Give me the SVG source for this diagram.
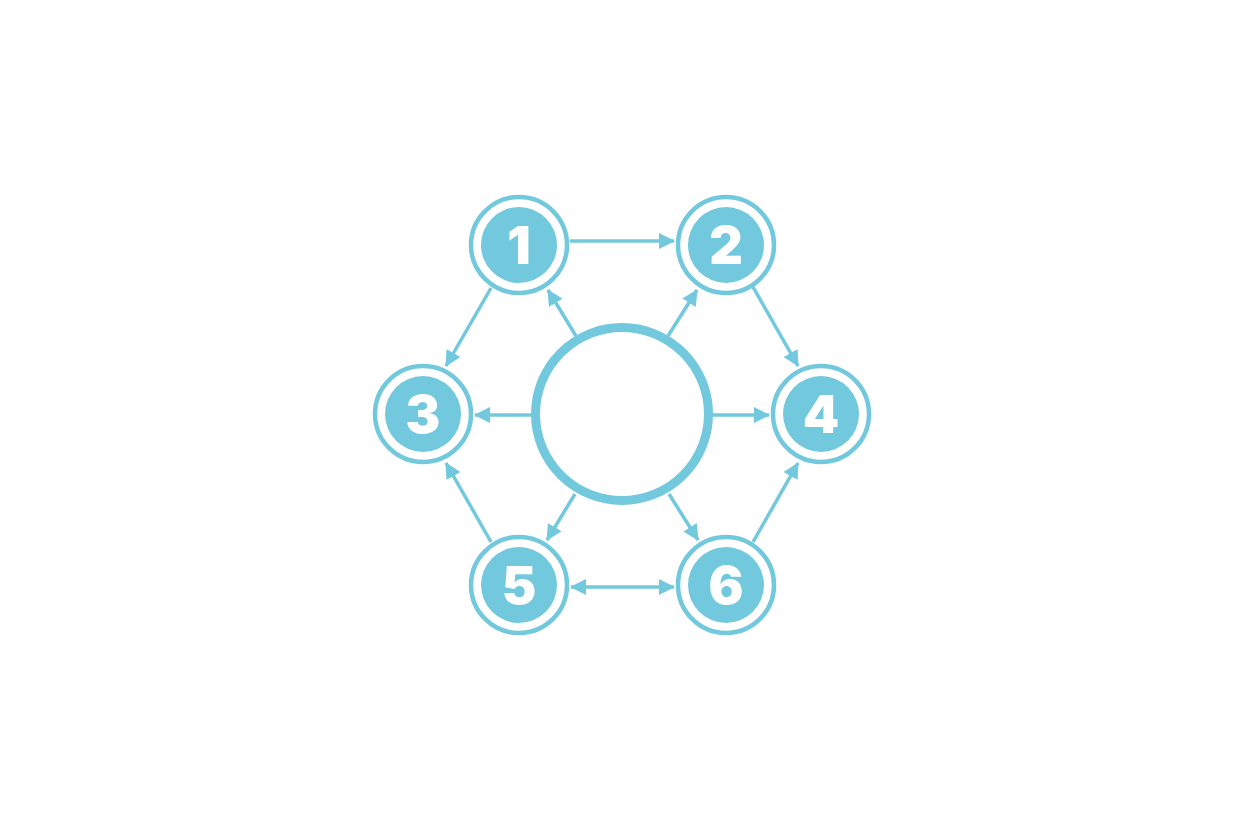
<svg xmlns="http://www.w3.org/2000/svg" width="1248" height="832" viewBox="0 0 1248 832">
<defs>
<style>
.ring{fill:#fff;stroke:#72c8dd;stroke-width:4.5}
.core{fill:#72c8dd}
.num{fill:#fff;font-family:Inter,"Open Sans","DejaVu Sans",sans-serif;font-weight:900;font-size:52px;text-anchor:middle}
.ln{stroke:#72c8dd;stroke-width:3.5;fill:none;marker-end:url(#ah)}
.both{marker-start:url(#ahs)}
</style>
<marker id="ah" viewBox="0 0 16 18" refX="15" refY="9" markerWidth="16" markerHeight="18" markerUnits="userSpaceOnUse" orient="auto">
<path d="M0,1 L16,9 L0,17 Z" fill="#72c8dd"/>
</marker>
<marker id="ahs" viewBox="0 0 16 18" refX="15" refY="9" markerWidth="16" markerHeight="18" markerUnits="userSpaceOnUse" orient="auto-start-reverse">
<path d="M0,1 L16,9 L0,17 Z" fill="#72c8dd"/>
</marker>
</defs>
<rect width="1248" height="832" fill="#ffffff"/>
<g id="connectors">
<line class="ln" x1="570" y1="241" x2="674" y2="241"/>
<line class="ln" x1="491" y1="288" x2="446" y2="366"/>
<line class="ln" x1="753" y1="287" x2="798" y2="366"/>
<line class="ln" x1="491" y1="542" x2="446" y2="463"/>
<line class="ln" x1="753" y1="542" x2="798" y2="463"/>
<line class="ln both" x1="571" y1="587" x2="674" y2="587"/>
<line class="ln" x1="532" y1="415" x2="475" y2="415"/>
<line class="ln" x1="712" y1="415" x2="769" y2="415"/>
<line class="ln" x1="576" y1="336" x2="548" y2="290"/>
<line class="ln" x1="668" y1="336" x2="697" y2="290"/>
<line class="ln" x1="575" y1="494" x2="547" y2="540"/>
<line class="ln" x1="669" y1="494" x2="698" y2="540"/>
</g>
<g id="center">
<circle cx="622" cy="414" r="86.5" fill="#fff" stroke="#72c8dd" stroke-width="9"/>
</g>
<g id="n1"><circle class="ring" cx="519" cy="245" r="48"/><circle class="core" cx="519" cy="245" r="38"/><text class="num" x="519" y="264">1</text></g>
<g id="n2"><circle class="ring" cx="726" cy="245" r="48"/><circle class="core" cx="726" cy="245" r="38"/><text class="num" x="726" y="264">2</text></g>
<g id="n3"><circle class="ring" cx="423" cy="414" r="48"/><circle class="core" cx="423" cy="414" r="38"/><text class="num" x="423" y="433">3</text></g>
<g id="n4"><circle class="ring" cx="821" cy="414" r="48"/><circle class="core" cx="821" cy="414" r="38"/><text class="num" x="821" y="433">4</text></g>
<g id="n5"><circle class="ring" cx="519" cy="585" r="48"/><circle class="core" cx="519" cy="585" r="38"/><text class="num" x="519" y="604">5</text></g>
<g id="n6"><circle class="ring" cx="726" cy="585" r="48"/><circle class="core" cx="726" cy="585" r="38"/><text class="num" x="726" y="604">6</text></g>
</svg>
